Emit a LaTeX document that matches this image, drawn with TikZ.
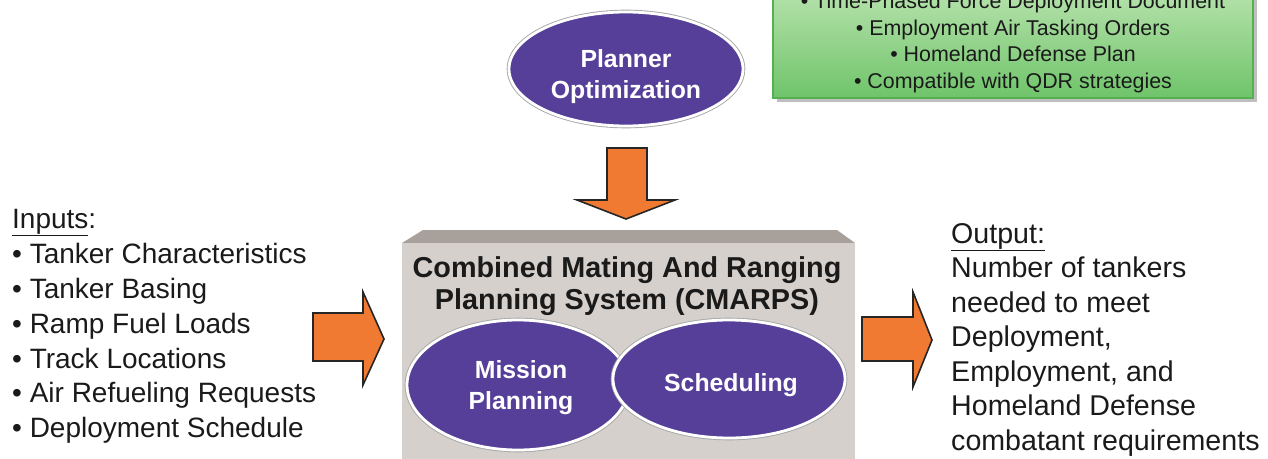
\documentclass[tikz,border=0pt]{standalone}
\usepackage{fontspec}
\setmainfont{Liberation Sans}
\usetikzlibrary{shapes.geometric}
\definecolor{purp}{HTML}{553F99}
\definecolor{txt}{HTML}{1A1A1A}
\definecolor{orng}{HTML}{F07A32}
\definecolor{greenTop}{HTML}{B6E2AC}
\definecolor{greenBot}{HTML}{6FC46A}
\definecolor{greenEdge}{HTML}{55B050}
\definecolor{boxFill}{HTML}{D6D0CC}
\definecolor{boxTop}{HTML}{A8A09B}
\tikzset{
  oval/.style={ellipse, fill=purp, draw=white, line width=2.8pt, inner sep=0pt,
    preaction={draw=black!35, line width=4.6pt}},
  ovaltext/.style={text=white, inner sep=0pt, font=\bfseries\fontsize{24.8}{31}\selectfont, align=center},
  blockarrow/.style={fill=orng, draw=black!85, line width=1.6pt, line join=miter},
  bodytext/.style={text=txt, inner sep=0pt, align=left},
}
\begin{document}
\begin{tikzpicture}[x=1pt,y=-1pt]
\useasboundingbox (0,0) rectangle (1268,458);

% green box
\fill[black!25] (777,-10) rectangle (1257,102);
\node[draw=greenEdge, line width=1.2pt, top color=greenTop, bottom color=greenBot,
      minimum width=480pt, minimum height=108pt, inner sep=0pt] (green) at (1013,44) {};
\node[text=txt, inner sep=0pt, align=center, font=\fontsize{21.4}{26.4}\selectfont] (greentext) at (1013,43)
 {• Time-Phased Force Deployment Document\\
  • Employment Air Tasking Orders\\
  • Homeland Defense Plan\\
  • Compatible with QDR strategies};

% planner optimization
\node[oval, minimum width=234pt, minimum height=114pt] (planner) at (626,69) {};
\node[ovaltext] (plannertext) at (626,76.5) {Planner\\Optimization};

% down arrow
\draw[blockarrow] (607,148) -- (647,148) -- (647,200) -- (675,200) -- (626,219) -- (577,200) -- (607,200) -- cycle;

% CMARPS box
\fill[boxTop] (402,243) -- (423,230) -- (837,230) -- (855,243) -- cycle;
\fill[boxFill] (402,243) rectangle (855,460);
\node[text=txt, inner sep=0pt, align=center, font=\bfseries\fontsize{28.8}{32}\selectfont] (cmarps) at (627,286)
 {Combined Mating And Ranging\\Planning System (CMARPS)};

\node[oval, minimum width=222pt, minimum height=130pt] (mission) at (518,385) {};
\node[ovaltext] (missiontext) at (521,388) {Mission\\Planning};
\node[oval, minimum width=232pt, minimum height=118pt] (sched) at (729,379) {};
\node[ovaltext] (schedtext) at (731,385.5) {Scheduling};

% left arrow
\draw[blockarrow] (313,313) -- (363,313) -- (363,292) -- (384,339) -- (363,385) -- (363,361) -- (313,361) -- cycle;
% right arrow
\draw[blockarrow] (862,317) -- (913,317) -- (913,292) -- (932,340) -- (913,387) -- (913,361) -- (862,361) -- cycle;

% inputs
\node[bodytext, anchor=north west, font=\fontsize{28}{34.9}\selectfont] (inputs) at (12,209)
 {\underline{Inputs}:\\
  • Tanker Characteristics\\
  • Tanker Basing\\
  • Ramp Fuel Loads\\
  • Track Locations\\
  • Air Refueling Requests\\
  • Deployment Schedule};

% output
\node[bodytext, anchor=north west, font=\fontsize{28.6}{34.5}\selectfont] (output) at (951,223)
 {\underline{Output:}\\
  Number of tankers\\
  needed to meet\\
  Deployment,\\
  Employment, and\\
  Homeland Defense\\
  combatant requirements};
\end{tikzpicture}
\end{document}
